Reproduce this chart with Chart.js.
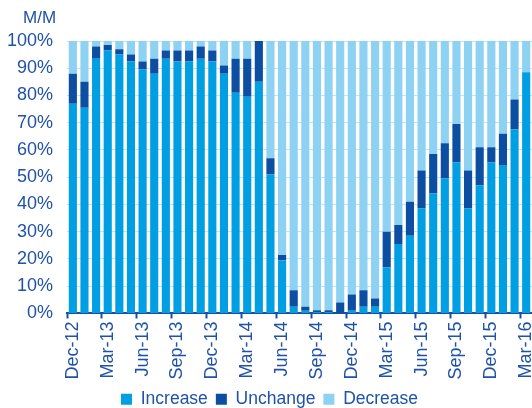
<!DOCTYPE html>
<html>
<head>
<meta charset="utf-8">
<script src="https://cdn.jsdelivr.net/npm/chart.js@4"></script>
<style>
  html, body { margin: 0; padding: 0; background: #fff; }
  #wrap { width: 532px; height: 408px; }
</style>
</head>
<body>
<div id="wrap"><canvas id="mmChart"></canvas></div>
<script>
// ========== DATA ==========
const months = [
  "Dec-12", "Jan-13", "Feb-13", "Mar-13", "Apr-13", "May-13", "Jun-13", "Jul-13",
  "Aug-13", "Sep-13", "Oct-13", "Nov-13", "Dec-13", "Jan-14", "Feb-14", "Mar-14",
  "Apr-14", "May-14", "Jun-14", "Jul-14", "Aug-14", "Sep-14", "Oct-14", "Nov-14",
  "Dec-14", "Jan-15", "Feb-15", "Mar-15", "Apr-15", "May-15", "Jun-15", "Jul-15",
  "Aug-15", "Sep-15", "Oct-15", "Nov-15", "Dec-15", "Jan-16", "Feb-16", "Mar-16"
];

const increase = [
  77, 75.5, 93.5, 96.5, 95, 92.5, 89.5, 88, 93.5, 92.5, 92.5, 93.5, 92.5, 88, 81, 79.5,
  85, 51, 19.5, 2.5, 1, 0.5, 0.5, 0, 1, 2.5, 2.5, 17, 25.5, 28.5, 38.5, 44,
  49.5, 55.5, 38.5, 47, 55.5, 54.5, 67.5, 88.5
];

const unchange = [
  11, 9.5, 4.5, 2, 2, 2.5, 3, 5.5, 3, 4, 4, 4.5, 4, 3, 12.5, 14,
  15, 6, 2, 6, 1.5, 0.7, 0.7, 4, 6, 6, 3, 13, 7, 12.5, 14, 14.5,
  13, 14, 14, 14, 5.5, 11.5, 11, 0
];

const decrease = [
  12, 15, 2, 1.5, 3, 5, 7.5, 6.5, 3.5, 3.5, 3.5, 2, 3.5, 9, 6.5, 6.5,
  0, 43, 78.5, 91.5, 97.5, 98.8, 98.8, 96, 93, 91.5, 94.5, 70, 67.5, 59, 47.5, 41.5,
  37.5, 30.5, 47.5, 39, 39, 34, 21.5, 11.5
];

const yTicks = [0, 10, 20, 30, 40, 50, 60, 70, 80, 90, 100];

// ========== STYLE ==========
const textBlue = "#1f52a8";
const axisBlue = "#1a4fa0";
const gridBlue = "#c4e4f4";
const fontFamily = "'Liberation Sans', Arial, sans-serif";

// small "M/M" caption above the y axis
const unitLabel = {
  id: "unitLabel",
  afterDraw(chart) {
    const c = chart.ctx;
    const area = chart.chartArea;
    c.save();
    c.fillStyle = textBlue;
    c.font = "17px " + fontFamily;
    c.textAlign = "left";
    c.textBaseline = "middle";
    c.fillText("M/M", area.left - 44, area.top - 23);
    c.restore();
  }
};

const ctx = document.getElementById("mmChart");

new Chart(ctx, {
  type: "bar",
  data: {
    labels: months,
    datasets: [
      { label: "Increase", data: increase, backgroundColor: "#009fe3", borderWidth: 0 },
      { label: "Unchange", data: unchange, backgroundColor: "#0b4ea2", borderWidth: 0 },
      { label: "Decrease", data: decrease, backgroundColor: "#8dd2f2", borderWidth: 0 }
    ]
  },
  options: {
    responsive: true,
    maintainAspectRatio: false,
    animation: false,
    datasets: {
      bar: {
        categoryPercentage: 1,
        barPercentage: 0.7
      }
    },
    layout: {
      padding: { top: 41, right: 0, left: 7, bottom: -10 }
    },
    plugins: {
      legend: {
        position: "bottom",
        labels: {
          boxWidth: 11,
          boxHeight: 11,
          padding: 8,
          color: textBlue,
          font: { size: 17.5, family: fontFamily }
        }
      },
      tooltip: { enabled: false }
    },
    scales: {
      x: {
        stacked: true,
        afterFit: function (scale) {
          // let the last rotated label run off the right edge, as in the original
          scale.paddingRight = 0;
          scale.paddingLeft = 0;
        },
        grid: {
          offset: true,
          drawOnChartArea: false,
          drawTicks: true,
          tickLength: 5,
          tickWidth: 2,
          tickColor: function (c) {
            return c.index % 3 === 0 ? axisBlue : "rgba(0,0,0,0)";
          }
        },
        border: { display: true, color: axisBlue, width: 2 },
        ticks: {
          autoSkip: false,
          maxRotation: 90,
          minRotation: 90,
          padding: 3,
          color: textBlue,
          font: { size: 18, family: fontFamily },
          callback: function (value, index) {
            return index % 3 === 0 ? months[index] : "";
          }
        }
      },
      y: {
        stacked: true,
        min: 0,
        max: 100,
        afterBuildTicks: function (scale) {
          scale.ticks = yTicks.map(function (v) { return { value: v }; });
        },
        afterFit: function (scale) {
          // tick padding is counted on both sides; keep only the inner gap
          scale.width = scale.width - 14;
        },
        grid: {
          color: gridBlue,
          lineWidth: 1,
          drawTicks: false
        },
        border: { display: false },
        ticks: {
          padding: 14,
          color: textBlue,
          font: { size: 18, family: fontFamily },
          callback: function (value) { return value + "%"; }
        }
      }
    }
  },
  plugins: [unitLabel]
});
</script>
</body>
</html>
